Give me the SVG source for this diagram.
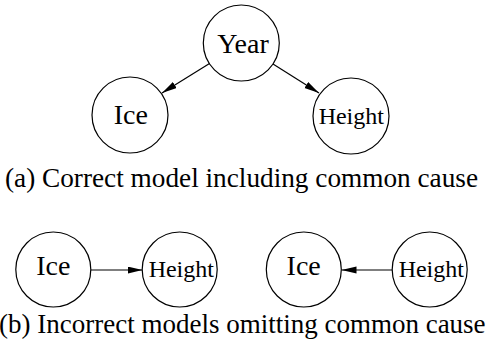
<svg xmlns="http://www.w3.org/2000/svg" width="490" height="350" viewBox="0 0 490 350">
<style>
.n{fill:#fff;stroke:#000;stroke-width:1.2}
.e{stroke:#000;stroke-width:1.2;fill:none;marker-end:url(#ah)}
</style>
<defs>
<marker id="ah" markerUnits="userSpaceOnUse" markerWidth="16" markerHeight="8" refX="15" refY="3.5" orient="auto">
<path d="M0,0 L15,3.5 L0,7 z" fill="#000"/>
</marker>
</defs>
<g id="edges">
<line class="e" x1="209.5" y1="63.5" x2="162" y2="93"/>
<line class="e" x1="273" y1="64" x2="319" y2="93"/>
<line class="e" x1="91" y1="270" x2="142.5" y2="270"/>
<line class="e" x1="392.5" y1="270" x2="341.5" y2="270"/>
</g>
<g font-family="Liberation Serif, Times New Roman, serif" fill="#000" text-anchor="middle">
<g id="year"><circle class="n" cx="241.3" cy="43" r="38"/><text x="243" y="53" font-size="28">Year</text></g>
<g id="ice1"><circle class="n" cx="130" cy="115" r="38"/><text x="130.8" y="123.5" font-size="28">Ice</text></g>
<g id="height1"><circle class="n" cx="351" cy="116" r="38"/><text x="351.3" y="124" font-size="24">Height</text></g>
<g id="ice2"><circle class="n" cx="53.3" cy="269.5" r="37.5"/><text x="53.3" y="274.5" font-size="28">Ice</text></g>
<g id="height2"><circle class="n" cx="179.7" cy="269.5" r="37.5"/><text x="181.3" y="276.7" font-size="24">Height</text></g>
<g id="ice3"><circle class="n" cx="303.8" cy="269.5" r="37.5"/><text x="303.7" y="275" font-size="28">Ice</text></g>
<g id="height3"><circle class="n" cx="429.7" cy="269.5" r="37.5"/><text x="431.3" y="276.7" font-size="24">Height</text></g>
</g>
<g font-family="Liberation Serif, Times New Roman, serif" font-size="27" fill="#000">
<text x="5" y="186.5" textLength="473" lengthAdjust="spacingAndGlyphs">(a) Correct model including common cause</text>
<text x="-1" y="333.3">(b) Incorrect models omitting common cause</text>
</g>
</svg>
